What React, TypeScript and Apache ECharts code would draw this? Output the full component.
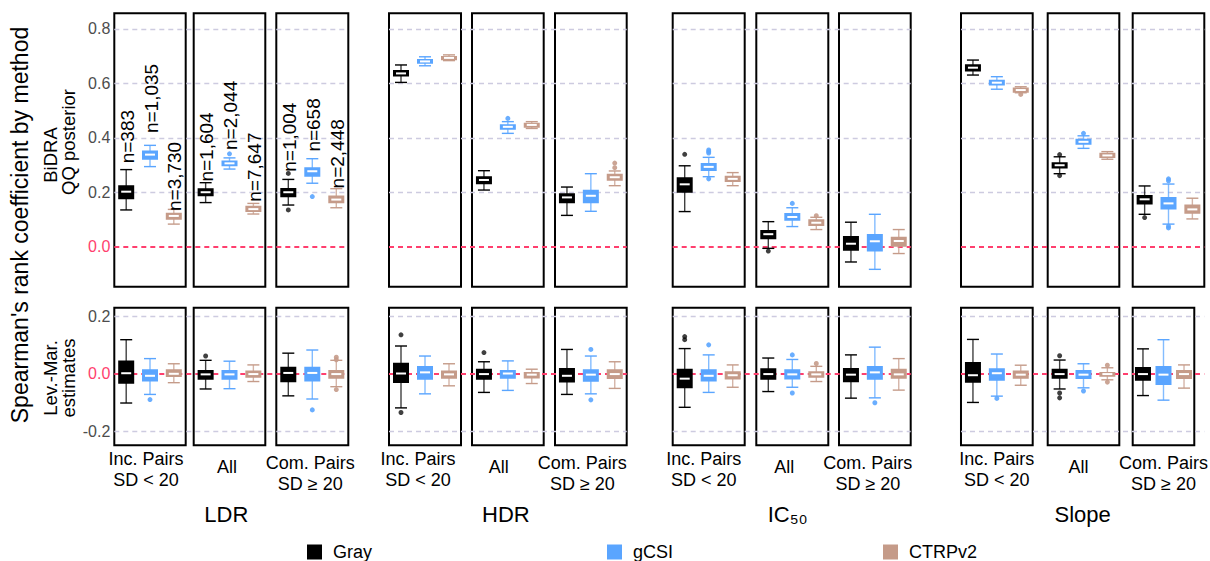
import React, { useEffect, useRef } from "react";
import * as echarts from "echarts";

// ---------- data ----------
const methods = ["Gray", "gCSI", "CTRPv2"];
const measures = ["LDR", "HDR", "IC₅₀", "Slope"];
const subsets = ["Inc. Pairs\nSD < 20", "All", "Com. Pairs\nSD ≥ 20"];
const topTicks = [0, 0.2, 0.4, 0.6, 0.8];
const bottomTicks = [-0.2, 0, 0.2];

// [min, q1, median, q3, max] per panel (measure x subset) per method (Gray, gCSI, CTRPv2)
const bidraStats = [
  [[0.136, 0.179, 0.203, 0.223, 0.284], [0.295, 0.324, 0.339, 0.35, 0.373], [0.084, 0.104, 0.114, 0.122, 0.138]],
  [[0.163, 0.19, 0.201, 0.212, 0.236], [0.286, 0.3, 0.307, 0.314, 0.327], [0.121, 0.132, 0.139, 0.148, 0.16]],
  [[0.154, 0.186, 0.201, 0.213, 0.248], [0.234, 0.261, 0.278, 0.289, 0.324], [0.144, 0.164, 0.174, 0.185, 0.214]],
  [[0.604, 0.629, 0.637, 0.646, 0.668], [0.665, 0.676, 0.681, 0.686, 0.698], [0.684, 0.689, 0.694, 0.697, 0.705]],
  [[0.209, 0.234, 0.246, 0.256, 0.28], [0.417, 0.434, 0.441, 0.447, 0.46], [0.435, 0.441, 0.448, 0.452, 0.46]],
  [[0.116, 0.164, 0.182, 0.194, 0.22], [0.131, 0.164, 0.188, 0.206, 0.269], [0.225, 0.247, 0.256, 0.265, 0.279]],
  [[0.13, 0.203, 0.23, 0.252, 0.298], [0.258, 0.283, 0.294, 0.305, 0.329], [0.225, 0.242, 0.25, 0.258, 0.273]],
  [[-0.005, 0.032, 0.047, 0.059, 0.093], [0.075, 0.1, 0.11, 0.121, 0.144], [0.064, 0.081, 0.089, 0.098, 0.109]],
  [[-0.055, -0.01, 0.012, 0.037, 0.091], [-0.082, -0.013, 0.021, 0.044, 0.12], [-0.024, 0.005, 0.022, 0.034, 0.064]],
  [[0.631, 0.648, 0.658, 0.667, 0.686], [0.579, 0.596, 0.603, 0.61, 0.625], [0.566, 0.57, 0.576, 0.582, 0.588]],
  [[0.269, 0.292, 0.3, 0.307, 0.331], [0.362, 0.379, 0.386, 0.394, 0.408], [0.322, 0.33, 0.336, 0.342, 0.35]],
  [[0.12, 0.16, 0.175, 0.187, 0.224], [0.084, 0.141, 0.16, 0.18, 0.231], [0.103, 0.126, 0.138, 0.152, 0.179]],
];
const bidraOutliers = [
  [[], [], []],
  [[], [0.342], []],
  [[0.27, 0.136], [0.185], []],
  [[], [], []],
  [[], [0.472], []],
  [[], [], [0.308, 0.291]],
  [[0.34], [0.35, 0.356, 0.345, 0.25], []],
  [[-0.015], [0.16], [0.115]],
  [[], [], []],
  [[], [], [0.56]],
  [[0.339, 0.262], [0.417], []],
  [[0.108], [0.25, 0.243, 0.07, 0.076], []],
];
const levMarStats = [
  [[-0.102, -0.031, 0.002, 0.043, 0.119], [-0.072, -0.023, -0.007, 0.012, 0.053], [-0.031, -0.008, 0.0, 0.012, 0.035]],
  [[-0.053, -0.017, -0.002, 0.01, 0.047], [-0.052, -0.017, -0.002, 0.01, 0.044], [-0.027, -0.01, -0.001, 0.008, 0.031]],
  [[-0.077, -0.026, 0.003, 0.021, 0.072], [-0.088, -0.023, 0.003, 0.021, 0.083], [-0.045, -0.014, -0.001, 0.01, 0.047]],
  [[-0.119, -0.029, 0.001, 0.035, 0.097], [-0.07, -0.017, 0.005, 0.024, 0.062], [-0.042, -0.014, -0.002, 0.008, 0.035]],
  [[-0.065, -0.017, -0.001, 0.014, 0.042], [-0.058, -0.014, 0.001, 0.01, 0.045], [-0.034, -0.013, -0.003, 0.003, 0.016]],
  [[-0.072, -0.027, -0.007, 0.017, 0.085], [-0.07, -0.024, -0.003, 0.012, 0.062], [-0.051, -0.015, -0.001, 0.012, 0.042]],
  [[-0.117, -0.047, -0.017, 0.014, 0.088], [-0.065, -0.023, -0.007, 0.012, 0.066], [-0.047, -0.016, -0.005, 0.005, 0.031]],
  [[-0.062, -0.017, -0.001, 0.016, 0.055], [-0.047, -0.016, -0.002, 0.012, 0.05], [-0.027, -0.01, -0.002, 0.005, 0.026]],
  [[-0.085, -0.026, -0.003, 0.017, 0.066], [-0.084, -0.017, 0.005, 0.024, 0.093], [-0.057, -0.014, -0.002, 0.014, 0.053]],
  [[-0.1, -0.028, -0.005, 0.038, 0.12], [-0.078, -0.021, 0.002, 0.016, 0.069], [-0.04, -0.014, -0.003, 0.008, 0.03]],
  [[-0.053, -0.014, -0.001, 0.014, 0.048], [-0.049, -0.015, -0.003, 0.01, 0.035], [-0.021, -0.007, -0.001, 0.003, 0.021]],
  [[-0.076, -0.021, -0.001, 0.02, 0.087], [-0.092, -0.036, -0.003, 0.024, 0.119], [-0.05, -0.015, -0.001, 0.01, 0.031]],
];
const levMarOutliers = [
  [[], [-0.09], []],
  [[0.062], [], []],
  [[], [-0.126], [0.058, 0.049, -0.055]],
  [[0.136, -0.135], [], []],
  [[0.074], [], []],
  [[], [0.085, -0.091], []],
  [[0.13, 0.119], [0.101], []],
  [[], [0.066, -0.067], [0.036]],
  [[], [-0.101], []],
  [[], [-0.086], []],
  [[0.063, -0.067, -0.084], [-0.06], [0.03, -0.029]],
  [[], [], []],
];
// sample sizes shown above the LDR boxes, and the value where each label starts
const sampleSizes = [[383, 1035, 3730], [1604, 2044, 7647], [1004, 658, 2448]];
const sampleLabelAt = [[0.307, 0.418, 0.132], [0.24, 0.356, 0.166], [0.276, 0.35, 0.215]];

// ---------- styles / layout ----------
const FONT = "Liberation Sans, Arial, Helvetica, sans-serif";
const colors = ["#000000", "#5AA5FF", "#C59B89"];
const RED = "#FF3F6E";
const GRID_LINE = "#CDCBE0";
const panelLeft = [114.3, 193.7, 276.3, 389, 472, 555, 672.7, 756.3, 839, 961, 1047.7, 1132.7];
const panelWidth = [71.4, 71.6, 72, 72, 71.7, 71.7, 72, 72, 71.7, 71.7, 71.6, 71.6];
const labelShift = [-4, -2.5, -2, -7, -9, -8.5, -5, -8, -7, 0, -5, 0];
const labelGap = [3, 11.5, 7.5];
const titleShift = [-5, -2, -4, 0];
const rowsLayout = [
  { top: 13.3, height: 273.4, min: -0.1457, max: 0.8576 },
  { top: 307.7, height: 137.6, min: -0.2496, max: 0.2307 },
];

const fmt = (v: number) => (Math.abs(v) < 1e-9 ? "0.0" : v.toFixed(1));

function makeRenderer(color: string, label: string | null, labelAt: number) {
  return (params: any, api: any) => {
    const cat = api.value(0);
    const pMin = api.coord([cat, api.value(1)]);
    const pQ1 = api.coord([cat, api.value(2)]);
    const pMed = api.coord([cat, api.value(3)]);
    const pQ3 = api.coord([cat, api.value(4)]);
    const pMax = api.coord([cat, api.value(5)]);
    const x = pMed[0];
    const bw = 14;
    const cw = 12;
    const mw = 10;
    const children: any[] = [
      { type: "line", shape: { x1: x, y1: pQ3[1], x2: x, y2: pMax[1] }, style: { stroke: color, lineWidth: 1.4, opacity: 0.75 } },
      { type: "line", shape: { x1: x, y1: pQ1[1], x2: x, y2: pMin[1] }, style: { stroke: color, lineWidth: 1.4, opacity: 0.75 } },
      { type: "line", shape: { x1: x - cw / 2, y1: pMax[1], x2: x + cw / 2, y2: pMax[1] }, style: { stroke: color, lineWidth: 1.4 } },
      { type: "line", shape: { x1: x - cw / 2, y1: pMin[1], x2: x + cw / 2, y2: pMin[1] }, style: { stroke: color, lineWidth: 1.4 } },
      {
        type: "rect",
        shape: { x: x - bw / 2, y: pQ3[1], width: bw, height: Math.max(pQ1[1] - pQ3[1], 0.5) },
        style: { fill: color, stroke: color, lineWidth: 2 },
      },
      { type: "line", shape: { x1: x - mw / 2, y1: pMed[1], x2: x + mw / 2, y2: pMed[1] }, style: { stroke: "#ffffff", lineWidth: 2 } },
    ];
    if (label) {
      const pl = api.coord([cat, labelAt]);
      children.push({
        type: "text",
        x: pl[0] + 1,
        y: pl[1],
        rotation: Math.PI / 2,
        style: { text: label, fontSize: 19, fontFamily: FONT, fill: "#000", align: "left", verticalAlign: "middle" },
      });
    }
    return { type: "group", children };
  };
}

function buildOption() {
  const grids: any[] = [];
  const xAxes: any[] = [];
  const yAxes: any[] = [];
  const series: any[] = [];
  const rowData = [
    { stats: bidraStats, outliers: bidraOutliers, ticks: topTicks },
    { stats: levMarStats, outliers: levMarOutliers, ticks: bottomTicks },
  ];

  rowData.forEach((row, r) => {
    const L = rowsLayout[r];
    // group-wide background grids (gridlines, zero line, y labels, group titles)
    measures.forEach((measure, g) => {
      const gl = panelLeft[g * 3];
      const gr = panelLeft[g * 3 + 2] + panelWidth[g * 3 + 2];
      const idx = grids.length;
      grids.push({ left: gl, top: L.top, width: gr - gl, height: L.height, show: false, containLabel: false });
      xAxes.push({
        gridIndex: idx,
        type: "value",
        min: 0,
        max: 1,
        show: r === 1,
        axisLine: { show: false },
        axisTick: { show: false },
        axisLabel: { show: false },
        splitLine: { show: false },
        name: r === 1 ? measure : "",
        nameLocation: "middle",
        nameGap: 58,
        nameTextStyle: {
          fontSize: 22,
          color: "#000",
          fontFamily: FONT,
          padding: [0, titleShift[g] < 0 ? -2 * titleShift[g] : 0, 0, 0],
        },
      });
      yAxes.push({
        gridIndex: idx,
        type: "value",
        min: L.min,
        max: L.max,
        show: g === 0,
        axisLine: { show: false },
        axisTick: { show: false },
        splitLine: { show: false },
        axisLabel: {
          customValues: row.ticks,
          formatter: (v: number) => fmt(v),
          color: (v: any) => (Math.abs(Number(v)) < 1e-9 ? RED : "#4D4D4D"),
          fontSize: 16,
          fontFamily: FONT,
          margin: 4,
          showMinLabel: true,
          showMaxLabel: true,
        },
      });
      series.push({
        type: "line",
        name: "grid-" + r + "-" + g,
        xAxisIndex: idx,
        yAxisIndex: idx,
        data: [],
        z: 1,
        silent: true,
        markLine: {
          silent: true,
          symbol: ["none", "none"],
          label: { show: false },
          data: row.ticks.map((t) => ({
            yAxis: t,
            lineStyle: Math.abs(t) < 1e-9
              ? { color: RED, type: [5, 4], width: 1.8 }
              : { color: GRID_LINE, type: [5, 4], width: 1.4 },
          })),
        },
      });
    });

    // panels
    for (let p = 0; p < 12; p++) {
      const idx = grids.length;
      grids.push({
        left: panelLeft[p],
        top: L.top,
        width: panelWidth[p],
        height: L.height,
        show: true,
        borderColor: "#000",
        borderWidth: 2,
        backgroundColor: "transparent",
        z: 3,
        containLabel: false,
      });
      const s = p % 3;
      xAxes.push({
        gridIndex: idx,
        type: "category",
        data: methods,
        show: r === 1,
        boundaryGap: true,
        axisLine: { show: false },
        axisTick: { show: false },
        axisLabel: { show: false },
        splitLine: { show: false },
        name: r === 1 ? subsets[s] : "",
        nameLocation: "middle",
        nameGap: labelGap[s],
        nameTextStyle: {
          fontSize: 18,
          lineHeight: 21,
          color: "#000",
          fontFamily: FONT,
          align: "center",
          padding: [0, labelShift[p] < 0 ? -2 * labelShift[p] : 0, 0, 0],
        },
      });
      yAxes.push({ gridIndex: idx, type: "value", min: L.min, max: L.max, show: false, splitLine: { show: false } });

      methods.forEach((m, k) => {
        const hasLabel = r === 0 && p < 3;
        series.push({
          type: "custom",
          name: m,
          xAxisIndex: idx,
          yAxisIndex: idx,
          z: 5,
          itemStyle: { color: colors[k] },
          encode: { x: 0, y: [1, 2, 3, 4, 5] },
          data: [[k, ...row.stats[p][k]]],
          renderItem: makeRenderer(
            colors[k],
            hasLabel ? "n=" + sampleSizes[p][k].toLocaleString("en-US") : null,
            hasLabel ? sampleLabelAt[p][k] : 0
          ),
        });
        const outs = row.outliers[p][k];
        if (outs.length) {
          series.push({
            type: "scatter",
            name: m,
            xAxisIndex: idx,
            yAxisIndex: idx,
            z: 5,
            symbol: "circle",
            symbolSize: 5,
            itemStyle: { color: colors[k], opacity: k === 0 ? 0.75 : 0.9 },
            data: outs.map((v) => [k, v]),
          });
        }
      });
    }
  });

  const legendLeft = [307, 607, 883];
  const legend = methods.map((m, k) => ({
    data: [{ name: m, itemStyle: { color: colors[k] } }],
    left: legendLeft[k],
    top: 543,
    padding: 0,
    icon: "rect",
    itemWidth: 15,
    itemHeight: 15,
    selectedMode: false,
    textStyle: { fontSize: 18, color: "#000", fontFamily: FONT, padding: [0, 0, 0, 6] },
  }));

  const titleText = (text: string, x: number, y: number, size: number) => ({
    type: "text",
    x,
    y,
    rotation: Math.PI / 2,
    style: { text, fontSize: size, fontFamily: FONT, fill: "#000", align: "center", verticalAlign: "middle" },
  });

  return {
    animation: false,
    backgroundColor: "#ffffff",
    textStyle: { fontFamily: FONT },
    grid: grids,
    xAxis: xAxes,
    yAxis: yAxes,
    legend,
    series,
    graphic: [
      titleText("Spearman's rank coefficient by method", 19.5, 225, 23),
      titleText("BiDRA", 50, 155, 18.5),
      titleText("QQ posterior", 68, 142, 18.5),
      titleText("Lev.-Mar.", 50, 378, 18.5),
      titleText("estimates", 68, 378, 18.5),
    ],
  };
}

export default function App() {
  const ref = useRef<HTMLDivElement>(null);
  useEffect(() => {
    const chart = echarts.init(ref.current as HTMLDivElement, null, { renderer: "svg" });
    chart.setOption(buildOption() as any);
    return () => chart.dispose();
  }, []);
  return (
    <div
      ref={ref}
      style={{ position: "absolute", left: 0, top: 0, width: 1210, height: 561, background: "#fff" }}
    />
  );
}
